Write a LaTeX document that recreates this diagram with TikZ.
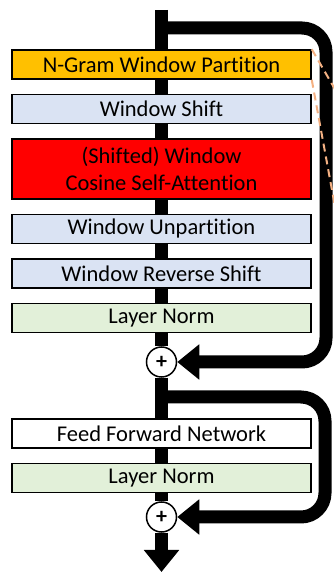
\documentclass[tikz,border=0pt]{standalone}
\usepackage{fontspec}
\setmainfont[Ligatures={NoCommon,NoDiscretionary}]{Carlito}
\usetikzlibrary{arrows.meta,positioning,backgrounds}
\definecolor{partorange}{HTML}{FFC000}
\definecolor{shiftblue}{HTML}{DAE3F3}
\definecolor{attnred}{HTML}{FF0000}
\definecolor{normgreen}{HTML}{E2F0D9}
\definecolor{zoomorange}{HTML}{F4B183}
\tikzset{
  layer/.style = {
    rectangle,
    draw=black,
    line width=1.5pt,
    minimum width=299pt,
    minimum height=29pt,
    inner sep=0pt,
    align=center,
    font=\fontsize{22.5}{27}\selectfont
  },
  addop/.style = {
    circle,
    draw=black,
    fill=white,
    line width=1.5pt,
    minimum size=30pt,
    inner sep=0pt,
    font=\fontsize{22}{22}\selectfont\bfseries
  },
  flow/.style = {
    line width=13pt
  },
  flow_arrow/.style = {
    line width=13pt,
    -{Triangle[width=34pt,length=22pt]}
  },
  zoom_line/.style = {
    draw=zoomorange,
    line width=2pt,
    dash pattern=on 8pt off 5pt
  }
}

\begin{document}
\begin{tikzpicture}[x=1pt, y=1pt, node distance=14pt]
\useasboundingbox (0,0) rectangle (334,573);

% Attention block
\node[layer, fill=partorange] (part) at (161.5,508.5) {N-Gram Window Partition};
\node[layer, fill=shiftblue, below=of part] (shift) {Window Shift};
\node[layer, fill=attnred, minimum height=60pt, below=of shift] (attn) {(Shifted) Window\\Cosine Self-Attention};
\node[layer, fill=shiftblue, below=of attn] (unpart) {Window Unpartition};
\node[layer, fill=shiftblue, below=of unpart] (rshift) {Window Reverse Shift};
\node[layer, fill=normgreen, below=of rshift] (norm1) {Layer Norm};
\node[addop] (add1) at (161.5,211) {+};

% MLP block
\node[layer, fill=white] (ffn) at (161.5,139.5) {Feed Forward Network};
\node[layer, fill=normgreen, below=of ffn] (norm2) {Layer Norm};
\node[addop] (add2) at (161.5,56) {+};

\coordinate (input) at (161.5,563);
\coordinate (output) at (161.5,1);
\coordinate (split1) at (161.5,545);
\coordinate (split2) at (161.5,176);

% Verbindungen
\begin{pgfonlayer}{background}
\draw[flow] (input) -- (add1);
\draw[flow] (add1) -- (add2);
\draw[flow_arrow] (add2) -- (output);
\draw[flow_arrow, rounded corners=24pt] (split1) -- ++(164.5,0) |- (add1.east);
\draw[flow_arrow, rounded corners=24pt] (split2) -- ++(163.5,0) |- (add2.east);
\end{pgfonlayer}

% Zoom guides
\coordinate (zoomA) at (336,482);
\coordinate (zoomB) at (336,361);
\draw[zoom_line] (part.north east) -- (zoomA);
\draw[zoom_line] (part.south east) -- (zoomB);

\end{tikzpicture}
\end{document}
